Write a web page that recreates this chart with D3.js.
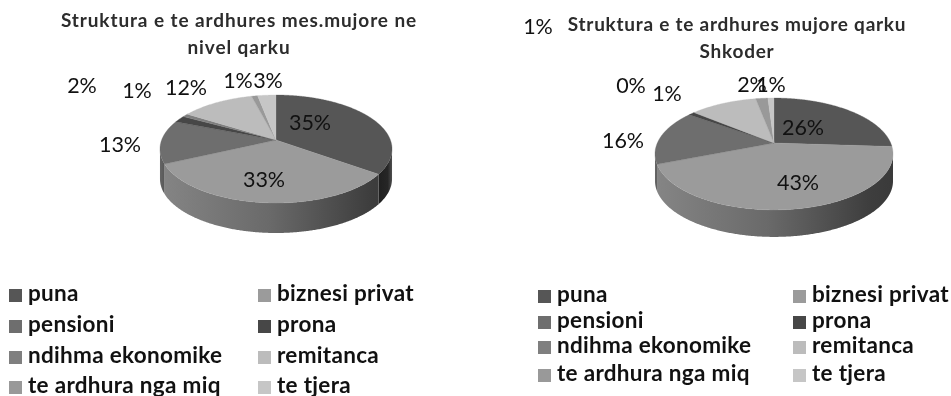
<!DOCTYPE html>
<html><head><meta charset="utf-8">
<script src="https://cdnjs.cloudflare.com/ajax/libs/d3/7.8.5/d3.min.js"></script>
<style>html,body{margin:0;padding:0;background:#fff}svg{display:block;filter:blur(0.5px)}text{font-family:Lato,"Open Sans",sans-serif}</style>
</head><body><svg id="c" width="951" height="396"></svg>
<script>
// ---- data ----
const categories = ["puna","biznesi privat","pensioni","prona","ndihma ekonomike","remitanca","te ardhura nga miq","te tjera"];
const colors = ["#565656","#9b9b9b","#6e6e6e","#474747","#7f7f7f","#bcbcbc","#999999","#c6c6c6"];
const valuesQarku = [35,33,13,2,1,12,1,3];
const valuesShkoder = [26,43,16,1,0,11,2,1];
const labelsQarku = ["35%","33%","13%","2%","1%","12%","1%","3%"];
const labelsShkoder = ["26%","43%","16%","1%","0%","1%","2%","1%"];
const titleQarku = ["Struktura e te ardhures mes.mujore ne","nivel qarku"];
const titleShkoder = ["Struktura e te ardhures mujore qarku","Shkoder"];

// ---- layout ----
const labelXQarku=[310,264,120,82,137,186,238,268], labelYQarku=[122,179,144,85,90,87,80,80];
const labelXShkoder=[803,798,623,538,631,667,752,771], labelYShkoder=[127,182,140,26,85,93,84,84];
const charts=[
 {id:"a",values:valuesQarku,labels:labelsQarku,lx:labelXQarku,ly:labelYQarku,title:titleQarku,
  cx:276,cy:140,R:114.4,S:52.5,k:0.1667,depth:30,tx:239,ty:[27,54],tsize:19,tspace:0.9,
  legX:[9,258],legY:[295,326,357,387],legFont:22.5},
 {id:"b",values:valuesShkoder,labels:labelsShkoder,lx:labelXShkoder,ly:labelYShkoder,title:titleShkoder,
  cx:774,cy:143,R:116.7,S:53.8,k:0.196,depth:27,tx:737,ty:[31,58],tsize:19,tspace:0.75,
  legX:[538,793],legY:[296,322,347,375],legFont:22.5}
];
const svg=d3.select("#c"), defs=svg.append("defs");
const pie=d3.pie().sort(null).value(d=>d);
const line=d3.line();
const wallStops=[[0,"#858585"],[0.47,"#6a6a6a"],[0.9,"#3e3e3e"],[1,"#3a3a3a"]];

function gradient(id,x1,x2,stops){
  const gr=defs.append("linearGradient").attr("id",id).attr("gradientUnits","userSpaceOnUse")
    .attr("x1",x1).attr("x2",x2).attr("y1",0).attr("y2",0);
  stops.forEach(s=>gr.append("stop").attr("offset",s[0]).attr("stop-color",s[1]));
}

charts.forEach(ch=>{
  const g=svg.append("g");
  const proj=a=>{const u=Math.sin(a),v=-Math.cos(a),w=1-ch.k*v;
    return [ch.cx+ch.R*u/w, ch.cy+ch.S*v/w];};
  const arcs=pie(ch.values);
  const step=Math.PI/360; let aMax=0,aMin=0,xMax=-1e9,xMin=1e9;
  d3.range(0,2*Math.PI,step).forEach(a=>{const x=proj(a)[0];
    if(x>xMax){xMax=x;aMax=a} if(x<xMin){xMin=x;aMin=a}});
  const gid="wall"+ch.id;
  gradient(gid,xMin,xMax,wallStops);
  gradient(gid+"0",xMax-14,xMax,[[0,"#1f1f1f"],[0.7,"#262626"],[1,"#505050"]]);
  gradient(gid+"2",xMin,xMin+8,[[0,"#666666"],[1,"#4c4c4c"]]);
  arcs.forEach((d,i)=>{
    const s=Math.max(d.startAngle,aMax), e=Math.min(d.endAngle,aMin);
    if(e<=s) return;
    const pts=d3.range(s,e,step).concat([e]).map(proj);
    const poly=pts.concat(pts.slice().reverse().map(p=>[p[0],p[1]+ch.depth]));
    const fill=(i===0||i===2)?gid+i:gid;
    g.append("path").attr("d",line(poly)+"Z").attr("fill",`url(#${fill})`);
  });
  arcs.forEach((d,i)=>{
    const pts=d3.range(d.startAngle,d.endAngle,step).concat([d.endAngle]).map(proj);
    pts.unshift([ch.cx,ch.cy]);
    g.append("path").attr("d",line(pts)+"Z").attr("fill",colors[i]).attr("stroke",colors[i]).attr("stroke-width",0.3);
  });
  ch.labels.forEach((t,i)=>g.append("text").attr("x",ch.lx[i]).attr("y",ch.ly[i]+7.5)
    .attr("text-anchor","middle").attr("font-size",21.5).attr("fill","#111").text(t));
  ch.title.forEach((t,i)=>g.append("text").attr("x",ch.tx).attr("y",ch.ty[i])
    .attr("text-anchor","middle").attr("font-size",ch.tsize).attr("font-weight",700)
    .attr("letter-spacing",ch.tspace).attr("fill","#2c2c2c").text(t));
  categories.forEach((c,i)=>{
    const col=i%2,row=Math.floor(i/2),x=ch.legX[col],y=ch.legY[row];
    g.append("rect").attr("x",x).attr("y",y-6).attr("width",13).attr("height",13).attr("fill",colors[i]);
    g.append("text").attr("x",x+19).attr("y",y+6).attr("font-size",ch.legFont).attr("font-weight",700)
      .attr("letter-spacing",0.3).attr("fill","#111").text(c);
  });
});
</script></body></html>
